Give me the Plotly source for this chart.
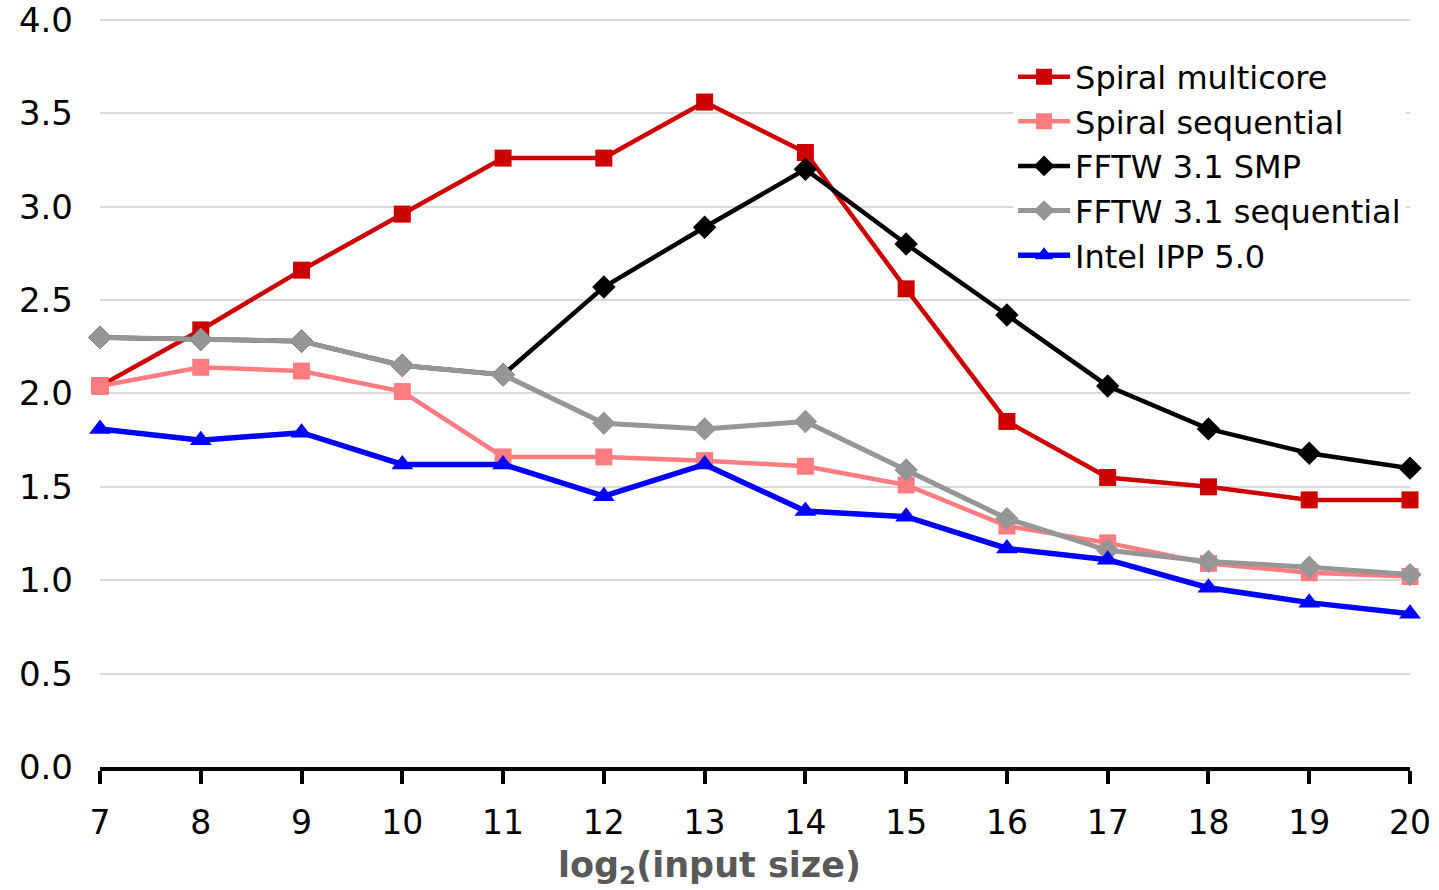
import plotly.graph_objects as go

x_vals = list(range(7, 21))
x_tick_labels = [str(v) for v in x_vals]
y_tick_vals = [0, 0.5, 1.0, 1.5, 2.0, 2.5, 3.0, 3.5, 4.0]
y_tick_labels = ["0.0", "0.5", "1.0", "1.5", "2.0", "2.5", "3.0", "3.5", "4.0"]

spiral_multicore = [2.04, 2.34, 2.66, 2.96, 3.26, 3.26, 3.56, 3.29, 2.56, 1.85, 1.55, 1.50, 1.43, 1.43]
spiral_sequential = [2.04, 2.14, 2.12, 2.01, 1.66, 1.66, 1.64, 1.61, 1.51, 1.29, 1.20, 1.09, 1.04, 1.02]
fftw_smp = [2.30, 2.29, 2.28, 2.15, 2.10, 2.57, 2.89, 3.20, 2.80, 2.42, 2.04, 1.81, 1.68, 1.60]
fftw_sequential = [2.30, 2.29, 2.28, 2.15, 2.10, 1.84, 1.81, 1.85, 1.59, 1.33, 1.16, 1.10, 1.07, 1.03]
intel_ipp = [1.81, 1.75, 1.79, 1.62, 1.62, 1.45, 1.62, 1.37, 1.34, 1.17, 1.11, 0.96, 0.88, 0.82]

series = [
    ("Spiral multicore", spiral_multicore, "#CC0000", "square", 17, 4.5),
    ("Spiral sequential", spiral_sequential, "#FF7C80", "square", 17, 4.5),
    ("FFTW 3.1 SMP", fftw_smp, "#000000", "diamond", 18, 4.5),
    ("FFTW 3.1 sequential", fftw_sequential, "#969696", "diamond", 18, 5),
    ("Intel IPP 5.0", intel_ipp, "#0000FF", "triangle-up", 19, 5.5),
]

FONT = "DejaVu Sans"

fig = go.Figure()
for name, vals, color, sym, msize, lw in series:
    fig.add_trace(go.Scatter(
        x=x_vals, y=vals, name=name, mode="lines+markers",
        line=dict(color=color, width=lw),
        marker=dict(symbol=sym, size=msize, color=color, line=dict(width=0)),
        cliponaxis=False,
    ))

fig.update_layout(
    width=1439, height=890,
    margin=dict(l=100, r=29, t=18, b=123),
    paper_bgcolor="white", plot_bgcolor="white",
    font=dict(family=FONT, size=32, color="#000000"),
    showlegend=True,
    legend=dict(
        x=0.697, y=0.958, xanchor="left", yanchor="top",
        bgcolor="white", font=dict(family=FONT, size=32, color="#000000"),
        itemwidth=52, tracegroupgap=0,
    ),
    xaxis=dict(
        range=[7, 20], tickmode="array", tickvals=x_vals, ticktext=x_tick_labels,
        showgrid=False, zeroline=False, automargin=False,
        showline=True, linecolor="#000000", linewidth=4,
        ticks="outside", ticklen=13, tickwidth=4, tickcolor="#000000",
        ticklabelstandoff=10, ticklabeloverflow="allow",
        tickfont=dict(family=FONT, size=33, color="#000000"),
    ),
    yaxis=dict(
        range=[0, 4.01], tickmode="array", tickvals=y_tick_vals, ticktext=y_tick_labels,
        showgrid=True, gridcolor="#D9D9D9", gridwidth=1.5, automargin=False,
        zeroline=False, showline=False, ticks="",
        ticklabelstandoff=26, ticklabeloverflow="allow",
        tickfont=dict(family=FONT, size=34, color="#000000"),
    ),
    annotations=[dict(
        text="<b>log<sub>2</sub>(input size)</b>", xref="paper", yref="paper",
        x=0.465, y=0, yshift=-100, xanchor="center", yanchor="middle",
        showarrow=False, font=dict(family=FONT, size=35, color="#595959"),
    )],
)

fig.write_html("out.html")
